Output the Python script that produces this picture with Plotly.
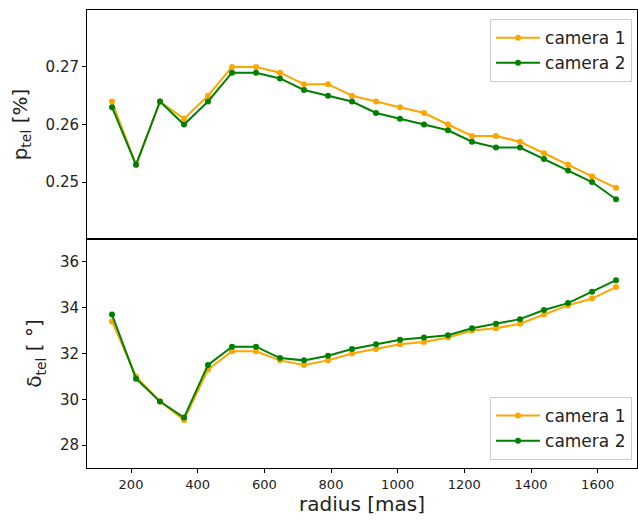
import plotly.graph_objects as go
from plotly.subplots import make_subplots

radius = [143, 215, 287, 359, 431, 503, 575, 647, 719, 791, 863, 935, 1007, 1079,
          1151, 1223, 1295, 1367, 1439, 1511, 1583, 1655]
p_cam1 = [0.264, 0.253, 0.264, 0.261, 0.265, 0.270, 0.270, 0.269, 0.267, 0.267, 0.265,
          0.264, 0.263, 0.262, 0.260, 0.258, 0.258, 0.257, 0.255, 0.253, 0.251, 0.249]
p_cam2 = [0.263, 0.253, 0.264, 0.260, 0.264, 0.269, 0.269, 0.268, 0.266, 0.265, 0.264,
          0.262, 0.261, 0.260, 0.259, 0.257, 0.256, 0.256, 0.254, 0.252, 0.250, 0.247]
d_cam1 = [33.4, 31.0, 29.9, 29.1, 31.3, 32.1, 32.1, 31.7, 31.5, 31.7, 32.0,
          32.2, 32.4, 32.5, 32.7, 33.0, 33.1, 33.3, 33.7, 34.1, 34.4, 34.9]
d_cam2 = [33.7, 30.9, 29.9, 29.2, 31.5, 32.3, 32.3, 31.8, 31.7, 31.9, 32.2,
          32.4, 32.6, 32.7, 32.8, 33.1, 33.3, 33.5, 33.9, 34.2, 34.7, 35.2]
x_ticks = [200, 400, 600, 800, 1000, 1200, 1400, 1600]
p_ticks = [0.25, 0.26, 0.27]
d_ticks = [28, 30, 32, 34, 36]

C1 = "#FFA500"
C2 = "#008000"
FONT = "DejaVu Sans"

fig = make_subplots(rows=2, cols=1, shared_xaxes=True, vertical_spacing=0)

def tr(x, y, name, color, legend):
    return go.Scatter(x=x, y=y, name=name, mode="lines+markers",
                      line=dict(color=color, width=2),
                      marker=dict(color=color, size=6), legend=legend)

fig.add_trace(tr(radius, p_cam1, "camera 1", C1, "legend"), row=1, col=1)
fig.add_trace(tr(radius, p_cam2, "camera 2", C2, "legend"), row=1, col=1)
fig.add_trace(tr(radius, d_cam1, "camera 1", C1, "legend2"), row=2, col=1)
fig.add_trace(tr(radius, d_cam2, "camera 2", C2, "legend2"), row=2, col=1)

axis_common = dict(showline=True, linecolor="black", linewidth=1, mirror=True,
                   showgrid=False, zeroline=False, ticks="outside", ticklen=4,
                   tickcolor="black")

TITLE_FONT = dict(size=20, color="#222", family=FONT)

fig.update_xaxes(**axis_common, range=[68, 1718], tickvals=x_ticks,
                 tickfont=dict(size=13, color="#222"))
fig.update_xaxes(ticks="", showticklabels=False, row=1, col=1)
fig.update_xaxes(title=dict(text="radius [mas]", font=TITLE_FONT, standoff=4),
                 row=2, col=1)
fig.update_yaxes(**axis_common, tickfont=dict(size=15, color="#222"))
fig.update_yaxes(range=[0.2401, 0.2799], tickvals=p_ticks, tickformat=".2f",
                 title=dict(text="p<sub>tel</sub> [%]", font=TITLE_FONT, standoff=12),
                 row=1, col=1)
fig.update_yaxes(range=[27.0, 37.0], tickvals=d_ticks,
                 title=dict(text="δ<sub>tel</sub> [ °]", font=TITLE_FONT, standoff=12),
                 row=2, col=1)

legend_style = dict(xanchor="right", x=0.991, bgcolor="rgba(255,255,255,0.8)",
                    bordercolor="#cccccc", borderwidth=1,
                    font=dict(size=17, family=FONT, color="#222"),
                    itemwidth=44, tracegroupgap=0)

fig.update_layout(
    width=638, height=522,
    margin=dict(l=87, r=1, t=10, b=54),
    plot_bgcolor="white", paper_bgcolor="white",
    font=dict(family=FONT, color="#222"),
    legend=dict(**legend_style, yanchor="top", y=0.980),
    legend2=dict(**legend_style, yanchor="bottom", y=0.0175),
)

fig.write_html("out.html", config={"displayModeBar": False},
               post_script="document.body.style.margin='0';document.body.style.overflow='hidden';")
